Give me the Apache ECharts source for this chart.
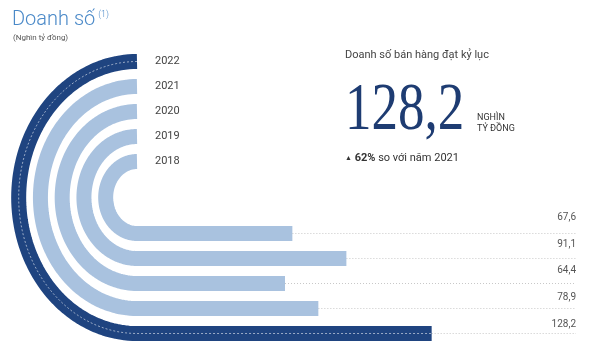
<!DOCTYPE html>
<html>
<head>
<meta charset="utf-8">
<script src="https://cdn.jsdelivr.net/npm/echarts@6/dist/echarts.min.js"></script>
<style>
html,body{margin:0;padding:0;background:#fff;}
#chart{width:606px;height:355px;}
</style>
</head>
<body>
<div id="chart"></div>
<script>
// ---- data ----
const years = ['2018', '2019', '2020', '2021', '2022'];
const sales = [67.6, 91.1, 64.4, 78.9, 128.2];
const valueLabels = ['67,6', '91,1', '64,4', '78,9', '128,2'];
const highlightYear = '2022';
const titleText = 'Doanh số';
const unitText = '(Nghìn tỷ đồng)';
const headline = 'Doanh số bán hàng đạt kỷ lục';
const bigValue = '128,2';
const bigUnit1 = 'NGHÌN';
const bigUnit2 = 'TỶ ĐỒNG';
const growthPct = '62%';
const growthText = ' so với năm 2021';

// ---- layout constants ----
const N = years.length;
const SLOTS = 10.88;      // vertical slot span between top of outer ring and bottom of outer ring
const XMAX = 191;
const RX_RATIO = 0.87;
const DARK = '#1f4480';
const LIGHT = '#a9c2df';

const chart = echarts.init(document.getElementById('chart'), null, {renderer: 'canvas'});

const data = years.map((y, i) => [sales[i], N - 1 - i, i]);

function renderItem(params, api) {
  const v = api.value(0);
  const k = api.value(1);
  const i = api.value(2);
  const top = api.coord([0, k]);
  const bottom = api.coord([v, SLOTS - k]);
  const end = api.coord([XMAX, SLOTS - k]);
  const cx = top[0];
  const cy = (top[1] + bottom[1]) / 2;
  const ry = (bottom[1] - top[1]) / 2;
  const rx = ry * RX_RATIO;
  const pts = [];
  const steps = 90;
  for (let s = 0; s <= steps; s++) {
    const t = Math.PI * s / steps;
    pts.push([cx - rx * Math.sin(t), cy - ry * Math.cos(t)]);
  }
  pts.push([bottom[0], bottom[1]]);
  const isHi = years[i] === highlightYear;
  const children = [
    {
      type: 'line',
      shape: {x1: bottom[0], y1: bottom[1], x2: end[0], y2: bottom[1]},
      style: {stroke: '#c8c8c8', lineWidth: 1, lineDash: [1, 2]}
    },
    {
      type: 'polyline',
      shape: {points: pts},
      style: {stroke: isHi ? DARK : LIGHT, lineWidth: 15, fill: null, lineCap: 'butt', lineJoin: 'round'}
    },
    {
      type: 'text',
      x: top[0] + 18,
      y: top[1],
      style: {text: years[i], fill: '#444', font: '11px Roboto, sans-serif', align: 'left', verticalAlign: 'middle'}
    },
    {
      type: 'text',
      x: end[0],
      y: bottom[1] - 16 + 1.7 * i,
      style: {text: valueLabels[i], fill: '#555', font: '10px Roboto, sans-serif', align: 'right', verticalAlign: 'middle'}
    }
  ];
  if (isHi) {
    children.splice(2, 0, {
      type: 'polyline',
      shape: {points: pts},
      style: {stroke: 'rgba(255,255,255,0.55)', lineWidth: 1, fill: null, lineDash: [2, 2]}
    });
  }
  return {type: 'group', children: children};
}

chart.setOption({
  animation: false,
  grid: {left: 137, right: 30, top: 61.5, bottom: 21.5},
  xAxis: {type: 'value', min: 0, max: XMAX, show: false},
  yAxis: {type: 'value', min: 0, max: SLOTS, inverse: true, show: false},
  series: [{
    type: 'custom',
    renderItem: renderItem,
    data: data,
    clip: false
  }],
  graphic: [
    {
      type: 'text', x: 12, y: 20,
      style: {
        text: titleText + '{sup|(1)}',
        font: '300 20px Roboto, sans-serif', fill: '#4a89c8', verticalAlign: 'middle',
        rich: {sup: {font: '300 9px Roboto, sans-serif', fill: '#4a89c8', verticalAlign: 'top', padding: [0, 0, 10, 3]}}
      }
    },
    {
      type: 'text', x: 13, y: 38,
      style: {text: unitText, font: '8px Roboto, sans-serif', fill: '#555', verticalAlign: 'middle'}
    },
    {
      type: 'text', x: 345, y: 55,
      style: {text: headline, font: '11px Roboto, sans-serif', fill: '#444', verticalAlign: 'middle'}
    },
    {
      type: 'text', x: 345, y: 111, scaleX: 0.78,
      style: {text: bigValue, font: '68px "Liberation Serif", serif', fill: '#1e3c72', verticalAlign: 'middle'}
    },
    {
      type: 'text', x: 477, y: 118,
      style: {text: bigUnit1, font: '9px Roboto, sans-serif', fill: '#333', verticalAlign: 'middle'}
    },
    {
      type: 'text', x: 477, y: 129,
      style: {text: bigUnit2, font: '9px Roboto, sans-serif', fill: '#333', verticalAlign: 'middle'}
    },
    {
      type: 'text', x: 345, y: 158,
      style: {
        text: '{tri|▲} {b|' + growthPct + '}' + growthText,
        font: '11px Roboto, sans-serif', fill: '#333', verticalAlign: 'middle',
        rich: {
          tri: {font: '7px Roboto, sans-serif', fill: '#333'},
          b: {font: 'bold 11px Roboto, sans-serif', fill: '#333'}
        }
      }
    }
  ]
});
</script>
</body>
</html>
